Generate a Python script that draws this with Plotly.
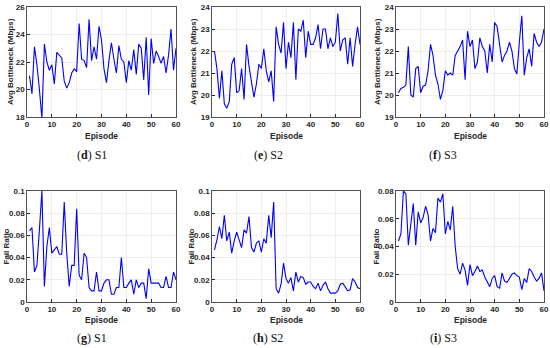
import plotly.graph_objects as go

episodes = list(range(1, 61))

bw_s1 = [21.0, 19.7, 23.1, 21.8, 20.0, 17.9, 23.3, 22.0, 21.4, 21.8,
         20.4, 22.7, 22.5, 22.3, 20.6, 20.1, 20.5, 21.2, 21.5, 21.3,
         24.8, 22.2, 22.1, 21.6, 25.1, 22.1, 23.1, 22.2, 24.6, 23.6,
         21.5, 20.5, 22.1, 23.4, 22.2, 21.2, 23.2, 22.2, 22.0, 20.5,
         22.1, 21.4, 22.9, 21.1, 23.3, 23.0, 20.7, 23.8, 19.6, 23.7,
         21.9, 22.8, 22.4, 21.9, 22.4, 21.2, 22.5, 24.4, 21.4, 23.0]
bw_s2 = [22.0, 21.2, 19.85, 21.1, 19.6, 19.4, 19.7, 21.4, 21.7, 20.1,
         20.2, 21.2, 19.8, 22.3, 21.3, 20.6, 19.9, 20.5, 21.4, 21.2,
         22.1, 21.1, 20.6, 21.1, 19.7, 23.1, 22.3, 21.9, 23.3, 21.2,
         22.4, 21.7, 23.3, 20.7, 23.0, 22.9, 23.4, 21.7, 22.9, 22.3,
         22.3, 22.6, 23.2, 22.1, 23.0, 23.0, 22.1, 22.6, 22.2, 22.4,
         23.7, 22.0, 22.5, 22.6, 21.4, 22.6, 21.3, 22.3, 23.1, 22.3]
bw_s3 = [20.1, 20.3, 20.35, 20.45, 22.2, 20.0, 19.9, 21.2, 21.3, 20.1,
         20.4, 20.45, 21.1, 22.3, 21.8, 20.9, 20.5, 19.8, 20.2, 21.1,
         20.9, 21.0, 20.9, 21.8, 22.0, 22.2, 22.5, 20.7, 22.9, 22.2,
         22.5, 21.2, 21.5, 22.6, 22.2, 22.0, 21.0, 22.3, 21.5, 23.3,
         23.1, 22.3, 21.5, 21.8, 22.0, 22.4, 22.0, 21.2, 20.95, 22.4,
         23.6, 20.9, 21.7, 22.1, 21.3, 22.8, 22.4, 22.2, 22.4, 23.0]

fail_s1 = [0.064, 0.067, 0.027, 0.033, 0.065, 0.100, 0.014, 0.050, 0.067, 0.044,
           0.047, 0.050, 0.043, 0.043, 0.090, 0.044, 0.014, 0.033, 0.033, 0.084,
           0.024, 0.020, 0.044, 0.040, 0.013, 0.010, 0.010, 0.027, 0.010, 0.010,
           0.017, 0.020, 0.020, 0.007, 0.007, 0.013, 0.013, 0.040, 0.013, 0.013,
           0.017, 0.020, 0.007, 0.020, 0.013, 0.017, 0.017, 0.003, 0.030, 0.017,
           0.017, 0.017, 0.017, 0.013, 0.013, 0.023, 0.013, 0.013, 0.027, 0.020]
fail_s2 = [0.047, 0.056, 0.068, 0.057, 0.078, 0.055, 0.063, 0.044, 0.055, 0.063,
           0.056, 0.049, 0.065, 0.062, 0.077, 0.049, 0.045, 0.053, 0.055, 0.045,
           0.057, 0.053, 0.078, 0.058, 0.090, 0.012, 0.008, 0.016, 0.035, 0.021,
           0.017, 0.022, 0.010, 0.027, 0.018, 0.023, 0.022, 0.016, 0.018, 0.018,
           0.014, 0.012, 0.017, 0.010, 0.015, 0.018, 0.012, 0.008, 0.008, 0.008,
           0.010, 0.016, 0.017, 0.014, 0.010, 0.011, 0.021, 0.018, 0.013, 0.012]
fail_s3 = [0.044, 0.049, 0.080, 0.078, 0.041, 0.056, 0.071, 0.041, 0.065, 0.057,
           0.061, 0.069, 0.063, 0.044, 0.053, 0.050, 0.075, 0.072, 0.078, 0.049,
           0.058, 0.052, 0.069, 0.040, 0.024, 0.020, 0.028, 0.023, 0.012, 0.027,
           0.019, 0.022, 0.026, 0.022, 0.023, 0.018, 0.015, 0.011, 0.017, 0.019,
           0.011, 0.010, 0.021, 0.015, 0.014, 0.017, 0.020, 0.021, 0.019, 0.018,
           0.009, 0.017, 0.014, 0.024, 0.022, 0.018, 0.015, 0.017, 0.021, 0.008]

series = [bw_s1, bw_s2, bw_s3, fail_s1, fail_s2, fail_s3]
y_ranges = [[18, 26], [19, 24], [19, 24], [0, 0.1], [0, 0.1], [0, 0.08]]
y_dtick = [2, 1, 1, 0.02, 0.02, 0.02]
y_titles = ["Avg Bottleneck (Mbps)"] * 3 + ["Fail Ratio"] * 3
captions = [("d", "S1"), ("e", "S2"), ("f", "S3"), ("g", "S1"), ("h", "S2"), ("i", "S3")]

W, H = 550, 348
x_px = [(27, 176), (212, 360), (396, 544)]
y_px = [(7, 117), (191, 302)]
ytitle_x = [[11, 194, 378], [6, 191, 376]]
caption_x = [92, 268, 443]
caption_y = [155, 338]
episode_y = [136, 320]

fig = go.Figure()
tickfont = dict(family="Liberation Sans", size=8, color="#262626", weight="bold")
annotations = []
for i, ys in enumerate(series):
    r, c = divmod(i, 3)
    xa = "x" if i == 0 else f"x{i+1}"
    ya = "y" if i == 0 else f"y{i+1}"
    fig.add_trace(go.Scatter(x=episodes, y=ys, mode="lines",
                             line=dict(color="#0000ff", width=1.1),
                             xaxis=xa, yaxis=ya, showlegend=False))
    x0, x1 = x_px[c]
    y0, y1 = y_px[r]
    common = dict(showgrid=True, gridcolor="#e3e3e3", gridwidth=0.6,
                  showline=True, linecolor="#262626", linewidth=0.8, mirror=True,
                  ticks="inside", ticklen=3, tickcolor="#262626",
                  tickfont=tickfont, zeroline=False, automargin=False,
                  ticklabeloverflow="allow")
    fig.layout[("xaxis" if i == 0 else f"xaxis{i+1}")] = dict(
        domain=[x0 / W, x1 / W], range=[0, 60], dtick=10, tick0=0,
        anchor=ya, **common)
    fig.layout[("yaxis" if i == 0 else f"yaxis{i+1}")] = dict(
        domain=[1 - y1 / H, 1 - y0 / H], range=y_ranges[i], dtick=y_dtick[i],
        anchor=xa, **common)
    annotations.append(dict(x=ytitle_x[r][c] / W, y=1 - ((y0 + y1) / 2) / H,
                            xref="paper", yref="paper", text=y_titles[i],
                            xanchor="center", yanchor="middle",
                            textangle=-90, showarrow=False,
                            font=dict(family="Liberation Sans", size=8, color="#262626", weight="bold")))
    annotations.append(dict(x=((x0 + x1) / 2) / W, y=1 - episode_y[r] / H,
                            xref="paper", yref="paper", text="Episode",
                            xanchor="center", yanchor="middle",
                            showarrow=False,
                            font=dict(family="Liberation Sans", size=8.5, color="#262626", weight="bold")))
    letter, s = captions[i]
    annotations.append(dict(x=caption_x[c] / W, y=1 - caption_y[r] / H,
                            xref="paper", yref="paper",
                            xanchor="center", yanchor="middle",
                            text=f"(<b>{letter}</b>) {s}", showarrow=False,
                            font=dict(family="Liberation Serif", size=12, color="#111111")))

fig.update_layout(width=W, height=H, margin=dict(l=0, r=0, t=0, b=0),
                  paper_bgcolor="white", plot_bgcolor="white",
                  hovermode=False, annotations=annotations)
fig.write_html("out.html", config={"displayModeBar": False, "staticPlot": True},
               post_script="document.body.style.margin='0';document.body.style.overflow='hidden';")
